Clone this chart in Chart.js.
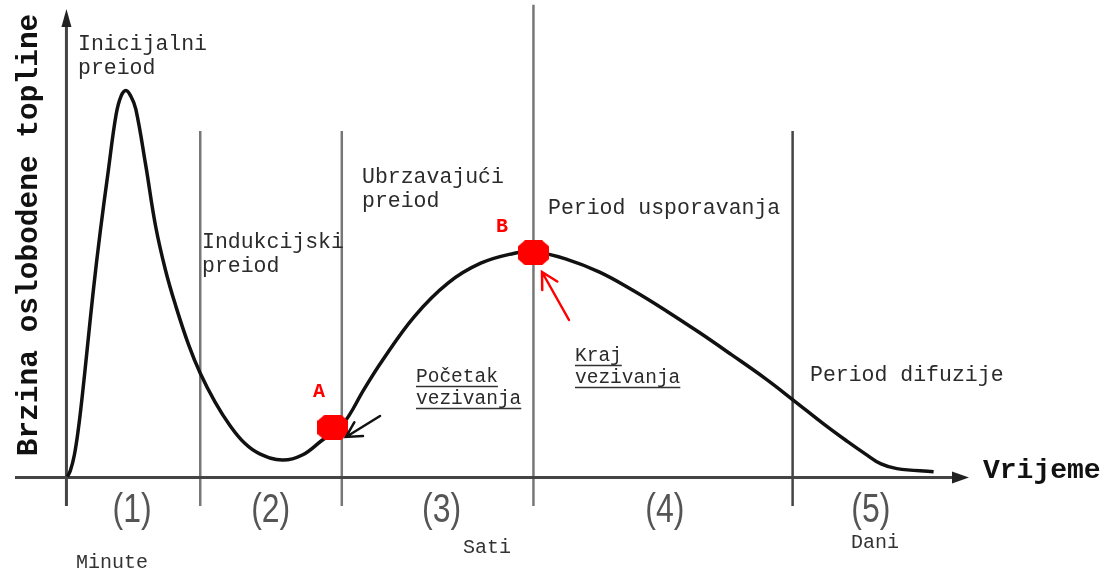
<!DOCTYPE html>
<html>
<head>
<meta charset="utf-8">
<script src="https://cdn.jsdelivr.net/npm/chart.js@4.4.0/dist/chart.umd.min.js"></script>
<style>
  html, body { margin: 0; padding: 0; background: #fff; }
  #wrap { width: 1112px; height: 571px; position: relative; }
</style>
</head>
<body>
<div id="wrap"><canvas id="heatChart"></canvas></div>
<script>
// time axis: 0 = origin, 100 = end of arrow ; heat rate: 100 = initial peak
const timeVals = [0.11, 0.44, 0.88, 1.32, 1.76, 2.31, 2.97, 3.74, 4.63, 5.51, 6.06, 6.61, 7.16, 7.71,
  8.81, 9.91, 11.01, 12.11, 13.55, 14.87, 16.52, 18.17, 19.82, 21.48, 24.0, 26.21, 28.41, 30.62,
  33.15, 35.02, 38.66, 42.4, 46.04, 49.67, 51.87, 55.62, 59.25, 62.89, 66.63, 70.26, 73.9,
  77.64, 80.73, 84.25, 86.78, 88.77, 90.53, 92.29, 96.37];
const heatRate = [0.25, 1.8, 5.8, 12.4, 21.0, 33.1, 47.7, 62.9, 78.5, 93.2, 98.0, 99.5, 98.0, 94.7,
  80.3, 64.6, 53.3, 44.4, 34.3, 26.8, 19.4, 13.4, 8.8, 6.1, 4.5, 5.8, 9.6, 13.4,
  23.0, 29.8, 41.4, 50.0, 55.1, 57.6, 58.1, 56.1, 52.8, 48.2, 42.9, 37.4, 31.6,
  25.5, 20.0, 13.6, 9.3, 6.1, 3.5, 2.3, 1.5];

// points A (pocetak vezivanja) and B (kraj vezivanja)
const markLabels = ['A', 'B'];
const markTime = [29.6, 51.9];
const markHeat = [12.9, 57.8];

// period boundaries and their labels
const periodBounds = [14.87, 30.6, 51.9, 80.7];
const boundTops = [89.1, 89.1, 121.5, 89.1];
const periodNums = ['(1)', '(2)', '(3)', '(4)', '(5)'];
const periodNumX = [7.3, 22.7, 41.7, 66.5, 89.4];

const mono = "'Liberation Mono', 'Courier New', monospace";

// red blob used for A and B
function blob(w, h) {
    const c = document.createElement('canvas');
    c.width = w; c.height = h;
    const g = c.getContext('2d');
    const cx = 7, cy = 6;
    g.fillStyle = '#ff0000';
    g.beginPath();
    g.moveTo(cx, 0); g.lineTo(w - cx, 0); g.lineTo(w, cy); g.lineTo(w, h - cy);
    g.lineTo(w - cx, h); g.lineTo(cx, h); g.lineTo(0, h - cy); g.lineTo(0, cy);
    g.closePath();
    g.fill();
    return c;
}

function arrow(ctx, x1, y1, x2, y2, color, head) {
    const a = Math.atan2(y2 - y1, x2 - x1);
    ctx.strokeStyle = color;
    ctx.lineWidth = 2.5;
    ctx.lineCap = 'round';
    ctx.beginPath();
    ctx.moveTo(x1, y1); ctx.lineTo(x2, y2);
    ctx.moveTo(x2 - head * Math.cos(a - 0.5), y2 - head * Math.sin(a - 0.5));
    ctx.lineTo(x2, y2);
    ctx.lineTo(x2 - head * Math.cos(a + 0.5), y2 - head * Math.sin(a + 0.5));
    ctx.stroke();
}

const sketch = {
    id: 'sketch',
    beforeDatasetsDraw(chart) {
        const ctx = chart.ctx;
        const xs = chart.scales.x, ys = chart.scales.y;
        const x0 = xs.getPixelForValue(0), y0 = ys.getPixelForValue(0);
        ctx.save();
        // period dividers
        periodBounds.forEach((b, i) => {
            const px = xs.getPixelForValue(b);
            ctx.strokeStyle = i === 3 ? '#444' : '#777';
            ctx.lineWidth = 2.5;
            ctx.beginPath();
            ctx.moveTo(px, ys.getPixelForValue(boundTops[i]));
            ctx.lineTo(px, ys.getPixelForValue(-7.3));
            ctx.stroke();
        });
        // axes
        ctx.strokeStyle = '#444';
        ctx.fillStyle = '#222';
        ctx.lineWidth = 3;
        ctx.beginPath();
        ctx.moveTo(x0, ys.getPixelForValue(-7.3));
        ctx.lineTo(x0, 22);
        ctx.moveTo(15, y0);
        ctx.lineTo(xs.getPixelForValue(99), y0);
        ctx.stroke();
        ctx.beginPath();
        ctx.moveTo(x0, 9); ctx.lineTo(x0 - 5, 27); ctx.lineTo(x0 + 5, 27); ctx.closePath();
        ctx.fill();
        const xe = xs.getPixelForValue(100.3);
        ctx.beginPath();
        ctx.moveTo(xe, y0); ctx.lineTo(xe - 17, y0 - 6); ctx.lineTo(xe - 17, y0 + 6); ctx.closePath();
        ctx.fill();
        ctx.restore();
    },
    afterDatasetsDraw(chart) {
        const ctx = chart.ctx;
        const xs = chart.scales.x;
        ctx.save();
        ctx.textBaseline = 'alphabetic';

        // period names
        ctx.fillStyle = '#2b2b2b';
        ctx.font = '21.5px ' + mono;
        [['Inicijalni', 78, 50], ['preiod', 78, 74],
         ['Indukcijski', 202, 248], ['preiod', 202, 272],
         ['Ubrzavajući', 362, 183], ['preiod', 362, 207],
         ['Period usporavanja', 548, 214],
         ['Period difuzije', 810, 381]].forEach(([t, x, y]) => ctx.fillText(t, x, y));

        // underlined notes
        ctx.font = '19.5px ' + mono;
        ctx.strokeStyle = '#333';
        ctx.lineWidth = 1.5;
        [['Početak', 416, 382], ['vezivanja', 416, 404],
         ['Kraj', 575, 361], ['vezivanja', 575, 383]].forEach(([t, x, y]) => {
            ctx.fillText(t, x, y);
            const w = ctx.measureText(t).width;
            ctx.beginPath();
            ctx.moveTo(x, y + 4.5); ctx.lineTo(x + w, y + 4.5);
            ctx.stroke();
        });

        // A / B letters
        ctx.fillStyle = '#ff0000';
        ctx.font = 'bold 20px ' + mono;
        ctx.fillText(markLabels[0], 313, 397);
        ctx.fillText(markLabels[1], 496, 232);

        arrow(ctx, 380, 416, 346, 437, '#111', 17);
        arrow(ctx, 569, 320, 542, 272, '#ff0000', 18);

        // axis titles
        ctx.fillStyle = '#111';
        ctx.font = 'bold 28px ' + mono;
        ctx.fillText('Vrijeme', 983, 478);
        ctx.save();
        ctx.translate(37, 235);
        ctx.rotate(-Math.PI / 2);
        ctx.textAlign = 'center';
        ctx.font = 'bold 29.5px ' + mono;
        ctx.fillText('Brzina oslobodene topline', 0, 0);
        ctx.restore();

        // period numbers
        ctx.fillStyle = '#555';
        ctx.font = "40px 'Liberation Sans Narrow', 'Liberation Sans', Arial, sans-serif";
        ctx.textAlign = 'center';
        periodNums.forEach((t, i) => {
            ctx.save();
            ctx.translate(xs.getPixelForValue(periodNumX[i]), 522);
            ctx.scale(0.8, 1);
            ctx.fillText(t, 0, 0);
            ctx.restore();
        });

        // time units
        ctx.textAlign = 'left';
        ctx.fillStyle = '#333';
        ctx.font = '20px ' + mono;
        ctx.fillText('Minute', 76, 568);
        ctx.fillText('Sati', 463, 553);
        ctx.fillText('Dani', 851, 548);
        ctx.restore();
    }
};

const ctx = document.getElementById('heatChart').getContext('2d');
new Chart(ctx, {
    type: 'scatter',
    data: {
        datasets: [
            {
                label: 'marks',
                data: markTime.map((t, i) => ({ x: t, y: markHeat[i] })),
                pointStyle: blob(31, 25),
                showLine: false,
                order: 0
            },
            {
                label: 'heat',
                data: timeVals.map((t, i) => ({ x: t, y: heatRate[i] })),
                showLine: true,
                borderColor: '#111',
                borderWidth: 3.5,
                pointRadius: 0,
                tension: 0.4,
                order: 1
            }
        ]
    },
    options: {
        responsive: true,
        maintainAspectRatio: false,
        animation: false,
        events: [],
        layout: { padding: 0 },
        plugins: { legend: { display: false }, tooltip: { enabled: false } },
        scales: {
            x: { type: 'linear', min: -6.828, max: 115.639, display: false },
            y: { type: 'linear', min: -22.727, max: 121.465, display: false }
        }
    },
    plugins: [sketch]
});
</script>
</body>
</html>
